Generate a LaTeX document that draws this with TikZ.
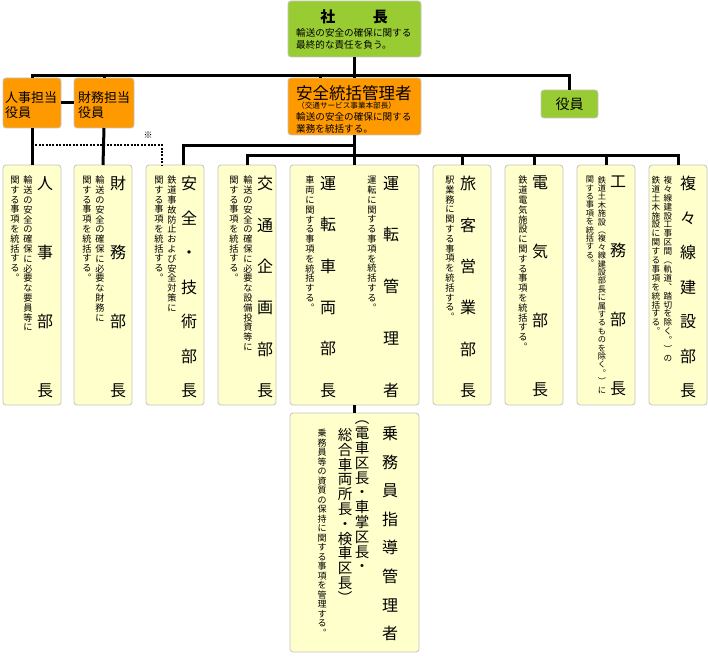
\documentclass[tikz,border=0pt]{standalone}
\usepackage{fontspec}
\usepackage{tikz}
\usepackage{xcolor}
\newfontfamily\jpfont{Noto Sans CJK JP}
\definecolor{leafgreen}{HTML}{99CC33}
\definecolor{chartorange}{HTML}{FF9900}
\definecolor{paleyellow}{HTML}{FFFFCC}
\definecolor{boxgray}{HTML}{C4C4C4}
% one character per line, for the vertical columns
\makeatletter
\newcommand{\vstack}[1]{\vstack@#1\@nil}
\def\vstack@#1#2\@nil{#1\if\relax\detokenize{#2}\relax\expandafter\@gobble\else\expandafter\@firstofone\fi{\\\vstack@#2\@nil}}
\makeatother
\newcommand{\colfont}[2]{\jpfont\fontsize{#1}{#2}\selectfont\lineskiplimit=-100pt}
\tikzset{
  boxbase/.style={draw=boxgray,line width=0.8pt,rounded corners=3pt,inner sep=0pt,outer sep=0pt,anchor=north west},
  greenbox/.style={boxbase,fill=leafgreen},
  orangebox/.style={boxbase,fill=chartorange},
  deptbox/.style={boxbase,fill=paleyellow,minimum width=58pt,minimum height=240pt},
  link/.style={line width=3pt},
  dotlink/.style={line width=2.6pt,dash pattern=on 2pt off 1.4pt},
  vcol/.style={anchor=north,inner sep=0pt,align=center,font=\colfont{9.2}{9.8}},
  vtitle/.style={anchor=north,inner sep=0pt,align=center,font=\colfont{16}{#1}},
  htext/.style={anchor=north west,inner sep=0pt,align=left}
}
\begin{document}
\begin{tikzpicture}[x=1pt,y=-1pt]
\useasboundingbox (0,0) rectangle (708,655);
\node[greenbox,minimum width=133pt,minimum height=56pt] (pres) at (288,1) {};
\node[font=\jpfont\bfseries\fontsize{15}{15}\selectfont] (prestitle) at (354,17) {社\hspace{2.5em}長};
\node[htext,font=\jpfont\fontsize{9.6}{12.5}\selectfont] (prestext) at (296,28) {輸送の安全の確保に関する\\最終的な責任を負う。};
\node[orangebox,minimum width=133pt,minimum height=57pt] (safety) at (288,78) {};
\node[htext,font=\jpfont\fontsize{16.5}{16.5}\selectfont] (safetytitle) at (296,85) {安全統括管理者};
\node[htext,font=\jpfont\fontsize{7.6}{8}\selectfont] (safetysub) at (297,102) {（交通サービス事業本部長）};
\node[htext,font=\jpfont\fontsize{9.6}{12.5}\selectfont] (safetytext) at (296,112) {輸送の安全の確保に関する\\業務を統括する。};
\node[orangebox,minimum width=58pt,minimum height=50pt] (jinjiyaku) at (3,78) {};
\node[htext,font=\jpfont\fontsize{13}{15}\selectfont] (jinjiyakutext) at (5,91) {人事担当\\役員};
\node[orangebox,minimum width=60pt,minimum height=50pt] (zaimuyaku) at (74,78) {};
\node[htext,font=\jpfont\fontsize{13}{15}\selectfont] (zaimuyakutext) at (78,91) {財務担当\\役員};
\node[greenbox,minimum width=57pt,minimum height=28pt] (yakuin) at (541,90) {};
\node[font=\jpfont\fontsize{14}{14}\selectfont] (yakuintext) at (yakuin.center) {役員};
\node[font=\jpfont\fontsize{9}{9}\selectfont] (kome) at (148,135) {※};

\node[deptbox] (jinjibu) at (3,165) {};
\node[deptbox] (zaimubu) at (74,165) {};
\node[deptbox] (anzenbu) at (146,165) {};
\node[deptbox] (koutsubu) at (218,165) {};
\node[deptbox,minimum width=129pt] (untenbu) at (290,165) {};
\node[deptbox] (ryokakubu) at (433,165) {};
\node[deptbox] (denkibu) at (505,165) {};
\node[deptbox] (koumubu) at (577,165) {};
\node[deptbox] (fukufukubu) at (649,165) {};
\node[deptbox,minimum width=129pt,minimum height=239pt] (joumuin) at (290,413) {};

\node[vtitle=69] (jinjititle) at (45,176) {\vstack{人事部長}};
\node[vcol] (jinjidesca) at (28,176) {\vstack{輸送の安全の確保に必要な要員等に}};
\node[vcol] (jinjidescb) at (15,176) {\vstack{関する事項を統括する︒}};
\node[vtitle=69] (zaimutitle) at (118,176) {\vstack{財務部長}};
\node[vcol] (zaimudesca) at (100,176) {\vstack{輸送の安全の確保に必要な財務に}};
\node[vcol] (zaimudescb) at (87,176) {\vstack{関する事項を統括する︒}};
\node[vtitle=34.5] (anzentitle) at (189,176) {\vstack{安全・技術部長}};
\node[vcol] (anzendesca) at (172,176) {\vstack{鉄道事故防止および安全対策に}};
\node[vcol] (anzendescb) at (159,176) {\vstack{関する事項を統括する︒}};
\node[vtitle=41.4] (koutsutitle) at (265,176) {\vstack{交通企画部長}};
\node[vcol] (koutsudesca) at (248,176) {\vstack{輸送の安全の確保に必要な設備投資等に}};
\node[vcol] (koutsudescb) at (234,176) {\vstack{関する事項を統括する︒}};
\node[vtitle=51.75] (untenkanri) at (391,176) {\vstack{運転管理者}};
\node[vcol] (untenkanridesc) at (372,176) {\vstack{運転に関する事項を統括する︒}};
\node[vtitle=41.4] (untensharyo) at (328,176) {\vstack{運転車両部長}};
\node[vcol] (untensharyodesc) at (310,176) {\vstack{車両に関する事項を統括する︒}};
\node[vtitle=41.4] (ryokakutitle) at (468,176) {\vstack{旅客営業部長}};
\node[vcol] (ryokakudesc) at (450,176) {\vstack{駅業務に関する事項を統括する︒}};
\node[vtitle=69] (denkititle) at (540,176) {\vstack{電気部長}};
\node[vcol] (denkidesc) at (523,176) {\vstack{鉄道電気施設に関する事項を統括する︒}};
\node[vtitle=69] (koumutitle) at (618,176) {\vstack{工務部長}};
\node[vcol,font=\colfont{8.2}{8.4}] (koumudesca) at (602,176) {\vstack{鉄道土木施設︵複々線建設部長に属するものを除く︒︶に}};
\node[vcol,font=\colfont{8.2}{8.4}] (koumudescb) at (590,176) {\vstack{関する事項を統括する︒}};
\node[vtitle=34.5] (fukufukutitle) at (688,176) {\vstack{複々線建設部長}};
\node[vcol,font=\colfont{8.6}{8.9}] (fukufukudesca) at (668,176) {\vstack{複々線建設工事区間︵軌道︑踏切を除く︒︶の}};
\node[vcol,font=\colfont{8.6}{8.9}] (fukufukudescb) at (656,176) {\vstack{鉄道土木施設に関する事項を統括する︒}};
\node[vtitle=28.6] (joumuintitle) at (390,426) {\vstack{乗務員指導管理者}};
\node[vcol,font=\colfont{14.5}{14.8}] (joumuinsuba) at (362,421) {\vstack{︵電車区長・車掌区長・}};
\node[vcol,font=\colfont{14.5}{14.8}] (joumuinsubb) at (345,428) {\vstack{総合車両所長・検車区長︶}};
\node[vcol,font=\colfont{9}{9.5}] (joumuindesc) at (322,429) {\vstack{乗務員等の資質の保持に関する事項を管理する︒}};

\coordinate (topbus) at (354,76);
\coordinate (midbus) at (354,146);
\coordinate (lowbus) at (354,155);
\coordinate (dotbus) at (32,145);
\draw[link] (pres.south) -- (safety.north);
\draw[link] (jinjiyaku.north) |- (topbus) -| (yakuin.north);
\draw[link] (zaimuyaku.north) -- (zaimuyaku.north |- topbus);
\draw[link] ([xshift=-34pt]safety.north) -- ([xshift=-34pt]safety.north |- topbus);
\draw[link] (jinjiyaku.east) -- (zaimuyaku.west);
\draw[link] (jinjiyaku.south) -- (jinjibu.north);
\draw[link] (zaimuyaku.south) -- (zaimubu.north);
\draw[dotlink] (dotbus) -| ([xshift=-13pt]anzenbu.north);
\draw[link] (safety.south) -- (untenbu.north);
\draw[link] ([xshift=8.5pt]anzenbu.north) |- (midbus);
\draw[link] (koutsubu.north) |- (lowbus) -| (fukufukubu.north);
\draw[link] (ryokakubu.north) -- (ryokakubu.north |- lowbus);
\draw[link] (denkibu.north) -- (denkibu.north |- lowbus);
\draw[link] (koumubu.north) -- (koumubu.north |- lowbus);
\draw[link] (untenbu.south) -- (joumuin.north);
\end{tikzpicture}
\end{document}
